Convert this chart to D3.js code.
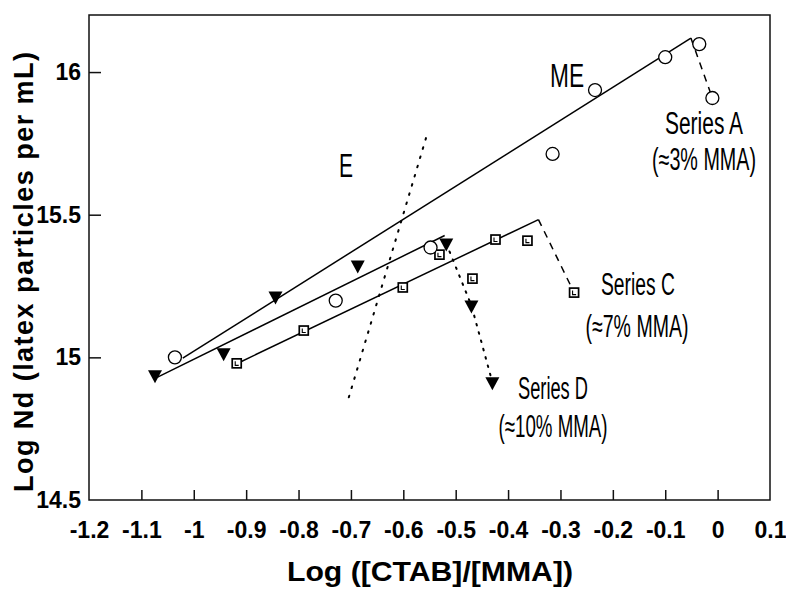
<!DOCTYPE html>
<html>
<head>
<meta charset="utf-8">
<script src="https://cdn.jsdelivr.net/npm/d3@7"></script>
<style>
  body { margin: 0; background: #fff; }
  svg { display: block; }
  .tick text { font-family: "Liberation Sans", Arial, sans-serif; font-weight: bold; font-size: 23px; fill: #000; }
  .note { font-family: "Liberation Sans Narrow", "Liberation Sans", sans-serif; fill: #000; }
</style>
</head>
<body>
<div id="container"></div>
<script>
// values
const xTicks = [-1.2, -1.1, -1, -0.9, -0.8, -0.7, -0.6, -0.5, -0.4, -0.3, -0.2, -0.1, 0, 0.1];
const yTicks = [14.5, 15, 15.5, 16];

// Series A (~3% MMA), open circles
const seriesAX = [-1.036, -0.729, -0.548, -0.315, -0.234, -0.100, -0.035, -0.010];
const seriesAY = [15.000, 15.199, 15.385, 15.713, 15.937, 16.052, 16.098, 15.909];
// Series C (~7% MMA), squares
const seriesCX = [-0.918, -0.790, -0.601, -0.531, -0.468, -0.424, -0.363, -0.274];
const seriesCY = [14.979, 15.094, 15.245, 15.360, 15.276, 15.413, 15.409, 15.227];
// Series D (~10% MMA), filled triangles
const seriesDX = [-1.074, -0.943, -0.844, -0.687, -0.518, -0.470, -0.430];
const seriesDY = [14.937, 15.014, 15.213, 15.322, 15.399, 15.182, 14.913];

// drawn fit lines: solid part, then the fall-off part
const fitAX = [-1.021, -0.051], fitAY = [14.997, 16.119];
const dropAX = [-0.051, -0.010], dropAY = [16.119, 15.909];
const fitCX = [-0.912, -0.342], fitCY = [14.983, 15.483];
const dropCX = [-0.342, -0.274], dropCY = [15.483, 15.227];
const fitDX = [-1.070, -0.521], fitDY = [14.930, 15.427];
const dropDX = [-0.518, -0.470, -0.430], dropDY = [15.399, 15.182, 14.913];
// E / ME boundary
const boundX = [-0.704, -0.556], boundY = [14.860, 15.773];

const w = 786;
const h = 589;
const padL = 89, padR = 770, padT = 15, padB = 500;

const svg = d3.select("#container").
  append("svg").
  attr("width", w).
  attr("height", h);

const xScale = d3.scaleLinear().domain([-1.2, 0.1]).range([padL, padR]);
const yScale = d3.scaleLinear().domain([14.5, 16.2]).range([padB, padT]);

const zip = (xs, ys) => xs.map((x, i) => [x, ys[i]]);
const line = d3.line().x(d => xScale(d[0])).y(d => yScale(d[1]));

// frame
svg.append("rect").
  attr("x", padL).attr("y", padT).
  attr("width", padR - padL).attr("height", padB - padT).
  attr("fill", "none").attr("stroke", "#111").attr("stroke-width", 1.5);

// axes, ticks pointing inward; plain hyphen for the minus like the original
const xAxis = d3.axisBottom(xScale).tickValues(xTicks).tickSize(-10).tickPadding(22).
  tickFormat(d => String(+d.toFixed(1)));
svg.append("g").attr("id", "x-axis").
  attr("transform", `translate(0, ${padB})`).
  call(xAxis).
  call(g => g.select(".domain").remove()).
  call(g => g.selectAll(".tick line").attr("stroke", "#111").attr("stroke-width", 1.5)).
  call(g => g.selectAll(".tick").filter(d => d === -1.2 || d === 0.1).select("line").remove());

const yAxis = d3.axisLeft(yScale).tickValues(yTicks).tickSize(-12).tickPadding(20).
  tickFormat(d => String(d));
svg.append("g").attr("id", "y-axis").
  attr("transform", `translate(${padL}, 0)`).
  call(yAxis).
  call(g => g.select(".domain").remove()).
  call(g => g.selectAll(".tick line").attr("stroke", "#111").attr("stroke-width", 1.5)).
  call(g => g.selectAll(".tick text").attr("x", -8)).
  call(g => g.selectAll(".tick").filter(d => d === 14.5).select("line").remove());

// fit lines
const lines = [
  [fitAX, fitAY, null], [dropAX, dropAY, "7,6"],
  [fitCX, fitCY, null], [dropCX, dropCY, "7,6"],
  [fitDX, fitDY, null], [dropDX, dropDY, "1.6,7"],
  [boundX, boundY, "1.6,8"]
];
svg.selectAll("path.fit").
  data(lines).
  enter().
  append("path").
  attr("class", "fit").
  attr("d", d => line(zip(d[0], d[1]))).
  attr("fill", "none").
  attr("stroke", "#000").
  attr("stroke-width", d => d[2] && d[2].startsWith("1.6") ? 2 : 1.5).
  attr("stroke-linecap", d => d[2] && d[2].startsWith("1.6") ? "round" : "butt").
  attr("stroke-dasharray", d => d[2]);

// Series D triangles
svg.selectAll("path.tri").
  data(zip(seriesDX, seriesDY)).
  enter().
  append("path").
  attr("class", "tri").
  attr("transform", d => `translate(${xScale(d[0])}, ${yScale(d[1])})`).
  attr("d", "M-7,-5L7,-5L0,8Z").
  attr("fill", "#000");

// Series C squares
const sq = svg.selectAll("g.sq").
  data(zip(seriesCX, seriesCY)).
  enter().
  append("g").
  attr("class", "sq").
  attr("transform", d => `translate(${xScale(d[0])}, ${yScale(d[1])})`);
sq.append("rect").
  attr("x", -4.5).attr("y", -4.5).attr("width", 9).attr("height", 9).
  attr("fill", "#fff").attr("stroke", "#000").attr("stroke-width", 1.7);
sq.append("path").
  attr("d", "M-1.5,-2V2H2").
  attr("fill", "none").attr("stroke", "#000").attr("stroke-width", 1.1);

// Series A circles
svg.selectAll("circle.dot").
  data(zip(seriesAX, seriesAY)).
  enter().
  append("circle").
  attr("class", "dot").
  attr("cx", d => xScale(d[0])).
  attr("cy", d => yScale(d[1])).
  attr("r", 6.5).
  attr("fill", "#fff").
  attr("stroke", "#000").
  attr("stroke-width", 1.3);

// annotations
const notes = [
  ["E", 346, 177, 34, 14],
  ["ME", 567, 87, 34, 34],
  ["Series A", 704, 134, 31, 78],
  ["(\u22483% MMA)", 704, 170, 31, 104],
  ["Series C", 638, 295, 31, 74],
  ["(\u22487% MMA)", 637, 337, 31, 103],
  ["Series D", 553, 399, 31, 70],
  ["(\u224810% MMA)", 553, 437, 31, 109]
];
svg.selectAll("text.note").
  data(notes).
  enter().
  append("text").
  attr("class", "note").
  attr("x", d => d[1]).
  attr("y", d => d[2]).
  attr("text-anchor", "middle").
  style("font-size", d => d[3] + "px").
  attr("textLength", d => d[4]).
  attr("lengthAdjust", "spacingAndGlyphs").
  text(d => d[0]);

// axis titles
svg.append("text").
  attr("x", 430).
  attr("y", 581).
  attr("text-anchor", "middle").
  style("font-family", "'Liberation Sans', Arial, sans-serif").
  style("font-weight", "bold").
  style("font-size", "28px").
  attr("textLength", 286).
  attr("lengthAdjust", "spacingAndGlyphs").
  text("Log ([CTAB]/[MMA])");

svg.append("text").
  attr("transform", "translate(33, 272) rotate(-90)").
  attr("text-anchor", "middle").
  style("font-family", "'Liberation Sans', Arial, sans-serif").
  style("font-weight", "bold").
  style("font-size", "27px").
  attr("textLength", 440).
  attr("lengthAdjust", "spacing").
  text("Log Nd (latex particles per mL)");
</script>
</body>
</html>
